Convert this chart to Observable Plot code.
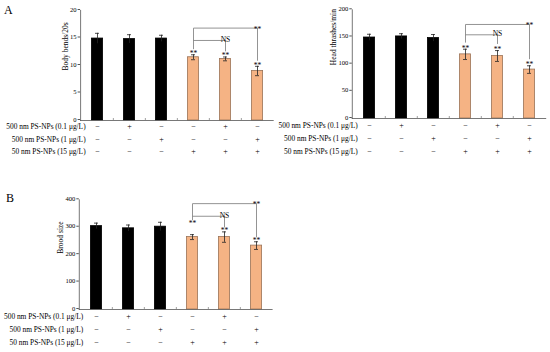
<!DOCTYPE html>
<html><head><meta charset="utf-8">
<script src="https://cdn.jsdelivr.net/npm/d3@7"></script>
<script src="https://cdn.jsdelivr.net/npm/@observablehq/plot@0.6"></script>
<style>
body{margin:0;background:#fff}
#fig{position:relative;width:550px;height:352px;font-family:"Liberation Serif",serif;overflow:hidden}
.panel{position:absolute}
.panel svg{overflow:visible}
.letter{position:absolute;font-size:12px;line-height:12px;font-family:"Liberation Serif",serif}
</style>
</head><body>
<div id="fig">
  <div class="letter" style="left:4px;top:4px">A</div>
  <div class="letter" style="left:6px;top:192px">B</div>
  <div class="panel" id="pA1" style="left:0;top:0"></div>
  <div class="panel" id="pA2" style="left:270px;top:0"></div>
  <div class="panel" id="pB" style="left:0;top:190px"></div>
</div>
<script>
// ---- data ----
const groups = ["G1", "G2", "G3", "G4", "G5", "G6"];
const rowLabels = ["500 nm PS-NPs (0.1 μg/L)", "500 nm PS-NPs (1 μg/L)", "50 nm PS-NPs (15 μg/L)"];
const row1Signs = ["−", "+", "−", "−", "+", "−"];
const row2Signs = ["−", "−", "+", "−", "−", "+"];
const row3Signs = ["−", "−", "−", "+", "+", "+"];

const bodyBends = [14.9, 14.8, 14.9, 11.5, 11.2, 9.0];
const bodyBendsSD = [0.95, 0.8, 0.6, 0.45, 0.35, 0.85];
const bodyBendsTicks = [0, 5, 10, 15, 20];

const headThrashes = [149, 151, 148, 118, 115, 90];
const headThrashesSD = [6, 5, 6.5, 9.5, 10, 7];
const headThrashesTicks = [0, 50, 100, 150, 200];

const broodSize = [304, 296, 302, 264, 264, 233];
const broodSizeSD = [11, 12, 16, 9, 19, 14];
const broodSizeTicks = [0, 100, 200, 300, 400];

const starGroups = ["G4", "G5", "G6"];     // "**" vs control
const bracketLevels = {                      // [top "**" bracket, "NS" bracket] in data units
  bodyBends: [16.8, 14.55],
  headThrashes: [173, 154],
  broodSize: [386, 340]
};

// ---- drawing ----
const FONT = "Liberation Serif";
const ORANGE = "#F5B384";
const ORANGE_EDGE = "#9a7358";
const signRows = [row1Signs, row2Signs, row3Signs];

function panel(cfg) {
  const {values, sds, ticks, title, levels, width, height, ml, mr, mt, mb, rowDy, titleDx, titleDy, raise} = cfg;
  const yMax = ticks[ticks.length - 1];
  const plotH = height - mt - mb;
  const u = yMax / plotH; // data units per px
  const bw = (width - ml - mr) / groups.length;
  const data = groups.map((g, i) => ({g, v: values[i], sd: sds[i], i}));
  const errTop = i => values[i] + sds[i];
  const gi = g => groups.indexOf(g);
  const starY = i => errTop(i) + (3 + (raise[i] || 0)) * u;
  const legY = i => errTop(i) + (cfg.leg + (raise[i] || 0)) * u;
  const [topL, nsL] = levels;
  const bracketPts = [
    {id: "top", g: "G4", y: legY(3)}, {id: "top", g: "G4", y: topL}, {id: "top", g: "G6", y: topL}, {id: "top", g: "G6", y: legY(5)},
    {id: "ns", g: "G4", y: nsL}, {id: "ns", g: "G5", y: nsL}, {id: "ns", g: "G5", y: legY(4)}
  ];
  const marks = [
    Plot.barY(data, {x: "g", y: "v", fill: d => d.i < 3 ? "#000" : ORANGE, stroke: d => d.i < 3 ? "#000" : ORANGE_EDGE, strokeWidth: 0.8, insetLeft: 10.4, insetRight: 10.4}),
    Plot.ruleX(data, {x: "g", y1: d => d.v - d.sd, y2: d => d.v + d.sd, stroke: "#222", strokeWidth: 0.8}),
    Plot.tickY(data, {x: "g", y: d => d.v + d.sd, stroke: "#222", strokeWidth: 0.8, insetLeft: 14, insetRight: 14}),
    Plot.tickY(data.filter(d => d.i >= 3), {x: "g", y: d => d.v - d.sd, stroke: "#222", strokeWidth: 0.8, insetLeft: 14, insetRight: 14}),
    Plot.ruleX(groups.slice(1), {x: d => d, y1: 0, y2: 2 * u, dx: -bw / 2, stroke: "#777", strokeWidth: 0.7}),
    Plot.ruleY([0], {stroke: "#555", strokeWidth: 0.8}),
    Plot.frame({anchor: "left", stroke: "#555", strokeWidth: 0.8}),
    Plot.axisY({ticks, tickSize: 2.5, tickPadding: 1.5, fontSize: 6.6, label: null, stroke: "#555", dy: -1}),
    Plot.text([title], {frameAnchor: "left", rotate: -90, dx: titleDx, dy: titleDy, fontSize: 7.5}),
    Plot.line(bracketPts, {x: "g", y: "y", z: "id", stroke: "#888", strokeWidth: 0.9}),
    Plot.text(starGroups, {x: d => d, y: d => starY(gi(d)), text: () => "**", fontSize: 7.5, dy: 2}),
    Plot.text(["**"], {x: () => "G6", y: () => topL, lineAnchor: "bottom", dy: 3.5, fontSize: 7.5}),
    Plot.text(["NS"], {x: () => "G5", y: () => nsL, lineAnchor: "bottom", dy: 1.5, fontSize: 7.5})
  ];
  signRows.forEach((signs, r) => {
    marks.push(Plot.text(groups, {x: d => d, text: (d, i) => signs[i], frameAnchor: "bottom", dy: rowDy[r], fontSize: 8}));
    marks.push(Plot.text([rowLabels[r]], {frameAnchor: "bottom-left", dx: cfg.labelDx, dy: rowDy[r], textAnchor: "end", fontSize: 7.4}));
  });
  return Plot.plot({
    width, height,
    marginLeft: ml, marginRight: mr, marginTop: mt, marginBottom: mb,
    style: {fontFamily: FONT, fontSize: "7px", background: "transparent", overflow: "visible"},
    x: {type: "band", domain: groups, padding: 0, axis: null},
    y: {domain: [0, yMax], axis: null},
    marks
  });
}

document.getElementById("pA1").append(panel({
  values: bodyBends, sds: bodyBendsSD, ticks: bodyBendsTicks, title: "Body bends/20s",
  levels: bracketLevels.bodyBends, width: 275, height: 160, ml: 80.1, mr: 1.3, mt: 10, mb: 40,
  rowDy: [8.5, 21, 33.5], titleDx: -15, titleDy: 5, labelDx: 5, leg: 6, raise: []
}));
document.getElementById("pA2").append(panel({
  values: headThrashes, sds: headThrashesSD, ticks: headThrashesTicks, title: "Head thrashes/min",
  levels: bracketLevels.headThrashes, width: 280, height: 160, ml: 81.8, mr: 3.8, mt: 9.3, mb: 42,
  rowDy: [9, 22, 35], titleDx: -19, titleDy: 1, labelDx: 5.5, leg: 7, raise: []
}));
document.getElementById("pB").append(panel({
  values: broodSize, sds: broodSizeSD, ticks: broodSizeTicks, title: "Brood size",
  levels: bracketLevels.broodSize, width: 275, height: 160, ml: 78.8, mr: 2.4, mt: 9.3, mb: 41,
  rowDy: [9, 22, 35], titleDx: -19, titleDy: -1, labelDx: 4, leg: 5, raise: [0, 0, 0, 10, 0, 0]
}));
</script>
</body></html>
